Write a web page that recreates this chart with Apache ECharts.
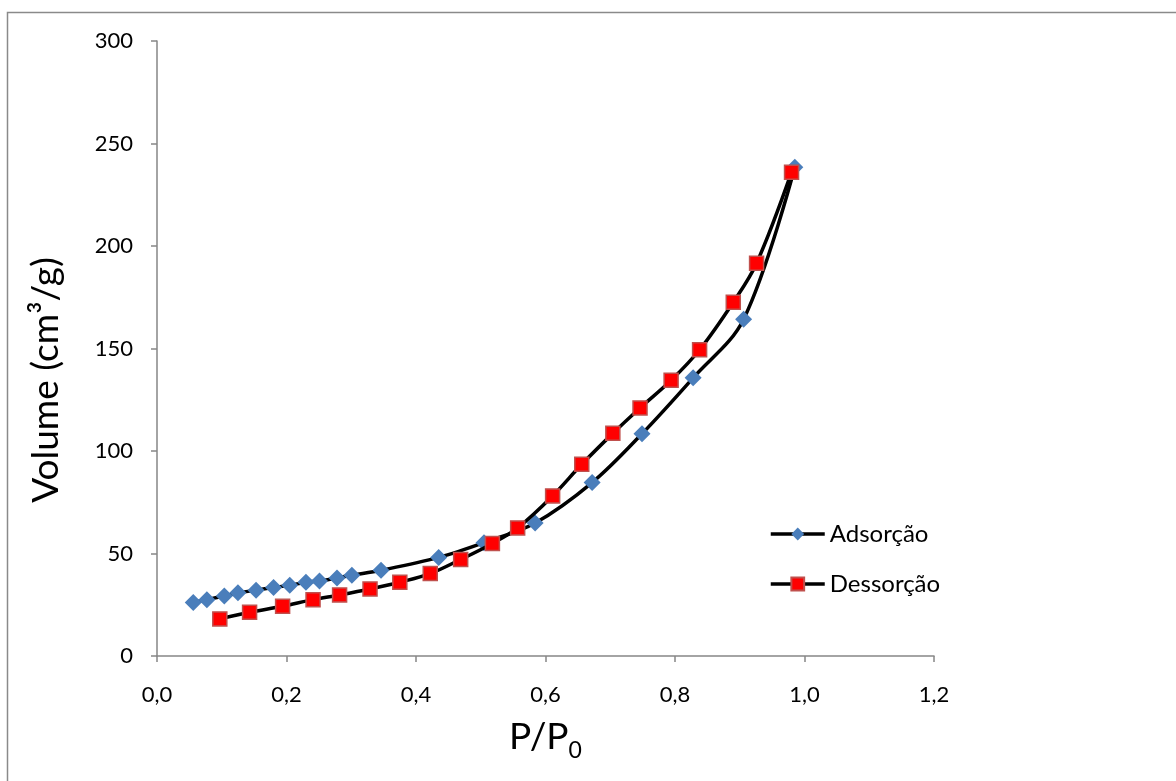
<!DOCTYPE html>
<html>
<head>
<meta charset="utf-8">
<script src="https://cdn.jsdelivr.net/npm/echarts@6/dist/echarts.min.js"></script>
<style>
html,body{margin:0;padding:0;background:#fff;}
#chart{width:1176px;height:781px;}
</style>
</head>
<body>
<div id="chart"></div>
<script>
// Data
const adsX = [0.056, 0.077, 0.104, 0.125, 0.153, 0.180, 0.205, 0.230, 0.251, 0.278, 0.301, 0.346, 0.435, 0.505, 0.584, 0.672, 0.749, 0.828, 0.906, 0.985];
const adsY = [26.1, 27.5, 29.3, 30.8, 32.1, 33.4, 34.5, 36.0, 36.6, 38.1, 39.4, 41.8, 48.1, 55.3, 64.9, 84.6, 108.4, 135.7, 164.3, 238.4];
const desX = [0.097, 0.143, 0.194, 0.241, 0.282, 0.329, 0.375, 0.422, 0.469, 0.518, 0.557, 0.611, 0.656, 0.704, 0.746, 0.794, 0.838, 0.890, 0.926, 0.980];
const desY = [18.1, 21.3, 24.3, 27.5, 29.8, 32.7, 36.0, 40.2, 47.1, 54.9, 62.5, 78.1, 93.5, 108.6, 121.0, 134.5, 149.4, 172.6, 191.6, 236.0];
const xTicks = ['0,0', '0,2', '0,4', '0,6', '0,8', '1,0', '1,2'];
const seriesNames = ['Adsorção', 'Dessorção'];

const pair = (xs, ys) => xs.map((x, i) => [x, ys[i]]);
const font = 'Lato, "Open Sans", sans-serif';
const axisGrey = '#868686';

const chart = echarts.init(document.getElementById('chart'), null, {renderer: 'canvas'});
chart.setOption({
  animation: false,
  backgroundColor: '#fff',
  grid: {left: 157, right: 242, top: 41, bottom: 125, containLabel: false, outerBoundsMode: 'none'},
  xAxis: {
    type: 'value', min: 0, max: 1.2, interval: 0.2,
    axisLine: {show: true, lineStyle: {color: axisGrey, width: 1.5}},
    axisTick: {show: true, inside: false, length: 6, lineStyle: {color: axisGrey, width: 1.5}},
    splitLine: {show: false},
    axisLabel: {
      margin: 28, color: '#000', fontSize: 22, fontFamily: font,
      formatter: v => xTicks[Math.round(v / 0.2)]
    },
    name: '{a|P/P}{b|0}',
    nameLocation: 'middle', nameGap: 63,
    nameTextStyle: {
      rich: {
        a: {fontSize: 37, fontFamily: font, color: '#000'},
        b: {fontSize: 23, fontFamily: font, color: '#000', verticalAlign: 'bottom', padding: [0, 0, -6, 0]}
      }
    }
  },
  yAxis: {
    type: 'value', min: 0, max: 300, interval: 50,
    axisLine: {show: true, lineStyle: {color: axisGrey, width: 1.5}},
    axisTick: {show: true, inside: false, length: 6, lineStyle: {color: axisGrey, width: 1.5}},
    splitLine: {show: false},
    axisLabel: {margin: 24, color: '#000', fontSize: 22, fontFamily: font}
  },
  legend: {
    orient: 'vertical', left: 764, top: 517, itemWidth: 54, itemHeight: 16, itemGap: 26,
    textStyle: {fontSize: 24, fontFamily: font, color: '#000'},
    lineStyle: {color: '#000', width: 3.5},
    data: seriesNames
  },
  graphic: [
    {type: 'rect', shape: {x: 7.5, y: 12.5, width: 1300, height: 900},
     style: {fill: 'none', stroke: '#8a8a8a', lineWidth: 1.5}, z: -10, silent: true},
    {type: 'text', rotation: Math.PI / 2, x: 46, y: 380,
     style: {text: 'Volume (cm³/g)', font: '37px ' + font, fill: '#000', textAlign: 'center', textVerticalAlign: 'middle'}}
  ],
  series: [
    {
      name: seriesNames[0], type: 'line', data: pair(adsX, adsY), smooth: 0.35,
      symbol: 'diamond', symbolSize: 17,
      lineStyle: {color: '#000', width: 3.5},
      itemStyle: {color: '#4a7ebb', borderWidth: 0},
      z: 2
    },
    {
      name: seriesNames[1], type: 'line', data: pair(desX, desY), smooth: 0.35,
      symbol: 'rect', symbolSize: 14,
      lineStyle: {color: '#000', width: 3.5},
      itemStyle: {color: '#ff0000', borderColor: '#c0504d', borderWidth: 1.5},
      z: 3
    }
  ]
});
</script>
</body>
</html>
